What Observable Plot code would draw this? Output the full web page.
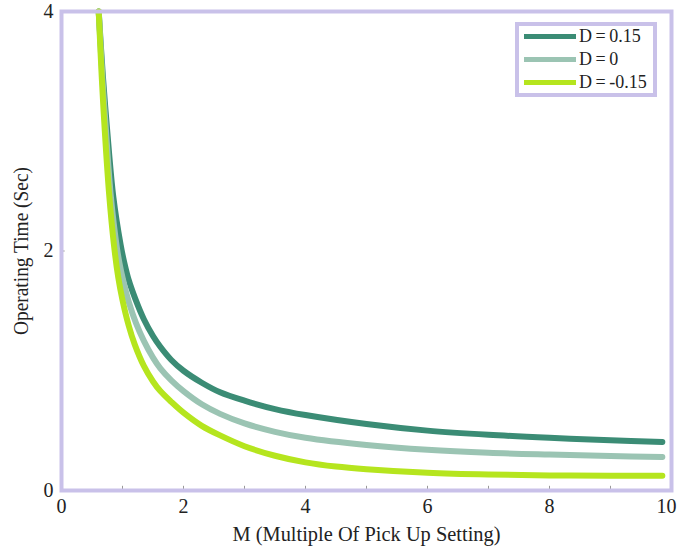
<!DOCTYPE html>
<html>
<head>
<meta charset="utf-8">
<script src="https://cdn.jsdelivr.net/npm/d3@7"></script>
<script src="https://cdn.jsdelivr.net/npm/@observablehq/plot@0.6"></script>
<style>
  html, body { margin: 0; padding: 0; background: #fff; }
  #wrap { position: relative; width: 678px; height: 553px; font-family: "Liberation Serif", "Times New Roman", serif; }
  #legend { position: absolute; left: 515px; top: 22px; width: 134px; height: 67px; border: 4px solid #c9c1e9; background: #fff; }
  .row { position: absolute; left: 5px; height: 18px; display: flex; align-items: center; font-size: 18px; color: #222; word-spacing: -1px; white-space: nowrap; }
  .sw { width: 52px; height: 5px; margin-right: 3px; }
</style>
</head>
<body>
<div id="wrap"></div>
<script>
const seriesNames = ["D = 0.15", "D = 0", "D = -0.15"];
const seriesColors = ["#3b8c75", "#9bc4b3", "#b5e51e"];

const mDark  = [0.61, 0.68, 0.75, 0.85, 0.97, 1.03, 1.1, 1.21, 1.35, 1.5, 1.62, 1.8, 2.0, 2.3, 2.6, 3, 3.5, 4, 5, 6, 7, 8, 9, 9.85];
const tDark  = [4.0, 3.45, 3.0, 2.45, 2.05, 1.9, 1.76, 1.6, 1.43, 1.29, 1.2, 1.09, 1.0, 0.9, 0.82, 0.75, 0.68, 0.63, 0.555, 0.5, 0.465, 0.44, 0.42, 0.405];

const mLight = [0.61, 0.67, 0.73, 0.81, 0.91, 0.95, 1.0, 1.1, 1.22, 1.35, 1.5, 1.62, 1.8, 2.0, 2.3, 2.6, 3, 3.5, 4, 5, 6, 7, 8, 9, 9.85];
const tLight = [4.0, 3.45, 3.0, 2.45, 2.02, 1.9, 1.78, 1.58, 1.4, 1.25, 1.11, 1.02, 0.92, 0.83, 0.72, 0.64, 0.56, 0.49, 0.44, 0.38, 0.34, 0.315, 0.30, 0.288, 0.28];

const mLime  = [0.61, 0.66, 0.71, 0.78, 0.86, 0.93, 1.0, 1.1, 1.2, 1.35, 1.5, 1.62, 1.8, 2.0, 2.3, 2.6, 3, 3.5, 4, 4.5, 5, 6, 7, 8, 9, 9.85];
const tLime  = [4.0, 3.45, 3.0, 2.48, 2.05, 1.78, 1.59, 1.38, 1.22, 1.04, 0.91, 0.83, 0.74, 0.65, 0.54, 0.46, 0.37, 0.29, 0.235, 0.2, 0.178, 0.148, 0.133, 0.126, 0.124, 0.123];

const xTicks = [0, 2, 4, 6, 8, 10];
const xMinorTicks = [1, 2, 3, 4, 5, 6, 7, 8, 9];
const yTicks = [0, 2, 4];
const yMinorTicks = [2];
const xTitle = "M (Multiple Of Pick Up Setting)";
const yTitle = "Operating Time (Sec)";

const mk = (ms, ts, name) => ms.map((m, i) => ({M: m, T: ts[i], D: name}));
const series = [mk(mDark, tDark, seriesNames[0]), mk(mLight, tLight, seriesNames[1]), mk(mLime, tLime, seriesNames[2])];

const frameColor = "#c9c1e9";

const chart = Plot.plot({
  width: 678,
  height: 553,
  marginLeft: 61,
  marginRight: 7,
  marginTop: 11,
  marginBottom: 63,
  style: {fontFamily: "'Liberation Serif', 'Times New Roman', serif", fontSize: "20px", color: "#222", background: "#fff"},
  x: {domain: [0, 10], ticks: xTicks, tickSize: 0, tickPadding: 8, tickFormat: d => String(d), label: null},
  y: {domain: [0, 4], ticks: yTicks, tickSize: 0, tickPadding: 8, tickFormat: d => String(d), label: null},
  marks: [
    Plot.ruleX(xMinorTicks, {x: d => d, y1: 0, y2: 0.035, stroke: "#999", strokeWidth: 1}),
    Plot.ruleY(yMinorTicks, {y: d => d, x1: 0, x2: 0.06, stroke: "#999", strokeWidth: 1}),
    ...series.map((s, i) => Plot.line(s, {x: "M", y: "T", stroke: seriesColors[i], strokeWidth: 6, curve: "catmull-rom", strokeLinecap: "round", strokeLinejoin: "round"})),
    Plot.frame({stroke: frameColor, strokeWidth: 4}),
    Plot.text([xTitle], {frameAnchor: "bottom", dy: 50, fontSize: 20, fill: "#222", className: "xtitle"}),
    Plot.text([yTitle], {frameAnchor: "left", textAnchor: "middle", dx: -40, rotate: -90, fontSize: 20, fill: "#222", className: "ytitle"})
  ]
});

const wrap = document.getElementById("wrap");
wrap.appendChild(chart);

// stretch titles to the reference's proportions
const xt = chart.querySelector(".xtitle text");
if (xt) { xt.setAttribute("textLength", 268); xt.setAttribute("lengthAdjust", "spacingAndGlyphs"); }
const yt = chart.querySelector(".ytitle text");
if (yt) { yt.setAttribute("textLength", 168); yt.setAttribute("lengthAdjust", "spacingAndGlyphs"); }
// keep the last x tick label inside the picture
chart.querySelectorAll("text").forEach(t => {
  if (t.textContent === String(xTicks[xTicks.length - 1])) t.setAttribute("dx", "-5");
});

const legend = document.createElement("div");
legend.id = "legend";
seriesNames.forEach((name, i) => {
  const row = document.createElement("div");
  row.className = "row";
  row.style.top = (1 + i * 23) + "px";
  const sw = document.createElement("div");
  sw.className = "sw";
  sw.style.background = seriesColors[i];
  const tx = document.createElement("span");
  tx.textContent = name;
  row.appendChild(sw);
  row.appendChild(tx);
  legend.appendChild(row);
});
wrap.appendChild(legend);
</script>
</body>
</html>
